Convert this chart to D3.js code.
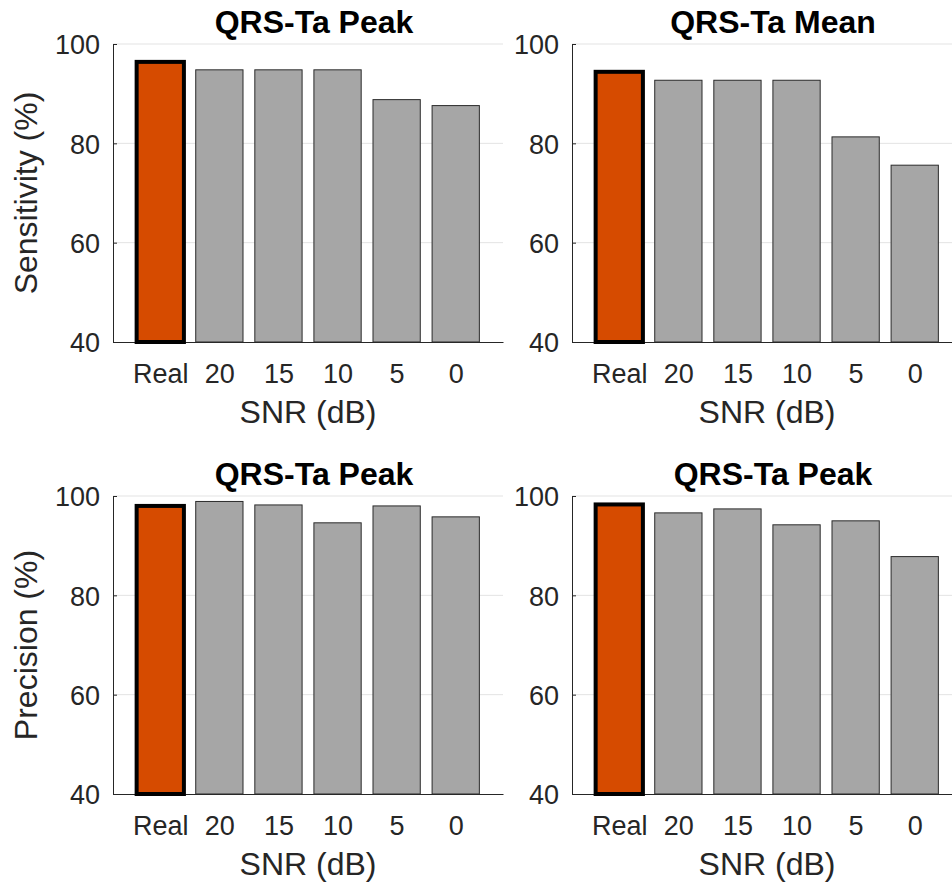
<html>
  <head>
    <title>QRS-Ta sensitivity / precision</title>
    <script src="https://d3js.org/d3.v7.min.js"></script>
    <style>
      body { margin: 0; background: #fff; }
      text { font-family: "Liberation Sans", Arial, sans-serif; }
    </style>
  </head>
  <body>
    <svg width="952" height="885" id="chart"></svg>
  </body>

  <script type="text/javascript">
    // data
    var categories = ["Real", "20", "15", "10", "5", "0"];
    var sensPeak = [96.4, 94.8, 94.8, 94.8, 88.8, 87.6];
    var sensMean = [94.4, 92.7, 92.7, 92.7, 81.3, 75.6];
    var precPeak = [98.0, 98.9, 98.2, 94.6, 98.0, 95.8];
    var precPeak2 = [98.3, 96.6, 97.4, 94.2, 95.0, 87.8];
    var yTicks = [40, 60, 80, 100];

    var panels = [
      {title: "QRS-Ta Peak", values: sensPeak, left: 113, top: 44, ylabel: "Sensitivity (%)"},
      {title: "QRS-Ta Mean", values: sensMean, left: 572, top: 44, ylabel: null},
      {title: "QRS-Ta Peak", values: precPeak, left: 113, top: 496, ylabel: "Precision (%)"},
      {title: "QRS-Ta Peak", values: precPeak2, left: 572, top: 496, ylabel: null}
    ];

    var W = 390, H = 298;
    var axisColor = "#262626";
    var svg = d3.select("#chart");

    panels.forEach(function(p) {
      var g = svg.append("g").attr("transform", "translate(" + p.left + "," + p.top + ")");

      var x = d3.scaleLinear().domain([0.2, 6.8]).range([0, W]);
      var y = d3.scaleLinear().domain([40, 100]).range([H, 0]);

      // grid
      g.selectAll(".grid").data(yTicks.slice(1)).enter().append("line")
          .attr("x1", 0).attr("x2", W)
          .attr("y1", function(d){ return y(d); })
          .attr("y2", function(d){ return y(d); })
          .attr("stroke", "#e3e3e3").attr("stroke-width", 1);

      // y axis
      var yAxis = g.append("g").call(d3.axisLeft(y).tickValues(yTicks).tickSizeInner(-4).tickSizeOuter(0).tickPadding(13));
      yAxis.select(".domain").attr("stroke", axisColor);
      yAxis.selectAll(".tick line").attr("stroke", axisColor);
      yAxis.selectAll("text").attr("font-size", 27).attr("fill", axisColor).attr("dy", "0.36em");

      // x axis
      var xAxis = g.append("g").attr("transform", "translate(0," + H + ")")
          .call(d3.axisBottom(x).tickValues(d3.range(1, 7))
            .tickFormat(function(d){ return categories[d - 1]; })
            .tickSize(0).tickPadding(22));
      xAxis.select(".domain").attr("stroke", axisColor);
      xAxis.selectAll("text").attr("font-size", 27).attr("fill", axisColor).attr("dy", "0.71em");

      // bars
      g.selectAll(".bar").data(p.values).enter().append("rect")
          .attr("x", function(d, i){ return x(i + 1 - 0.4); })
          .attr("width", x(1.8) - x(1))
          .attr("y", function(d){ return y(d); })
          .attr("height", function(d){ return y(40) - y(d); })
          .attr("fill", function(d, i){ return i == 0 ? "#d64b00" : "#a6a6a6"; })
          .attr("stroke", function(d, i){ return i == 0 ? "#000" : "#2b2b2b"; })
          .attr("stroke-width", function(d, i){ return i == 0 ? 4 : 1; });

      // title
      g.append("text")
          .attr("x", W / 2 + 6).attr("y", -11)
          .attr("text-anchor", "middle")
          .attr("font-size", 32).attr("font-weight", "bold").attr("fill", "#000")
          .text(p.title);

      // x label
      g.append("text")
          .attr("x", W / 2).attr("y", H + 81)
          .attr("text-anchor", "middle")
          .attr("font-size", 32).attr("fill", axisColor)
          .text("SNR (dB)");

      if (p.ylabel) {
        g.append("text")
          .attr("transform", "translate(" + (-76) + "," + (H / 2) + ") rotate(-90)")
          .attr("text-anchor", "middle")
          .attr("font-size", 32).attr("fill", axisColor)
          .text(p.ylabel);
      }
    });
  </script>
</html>
